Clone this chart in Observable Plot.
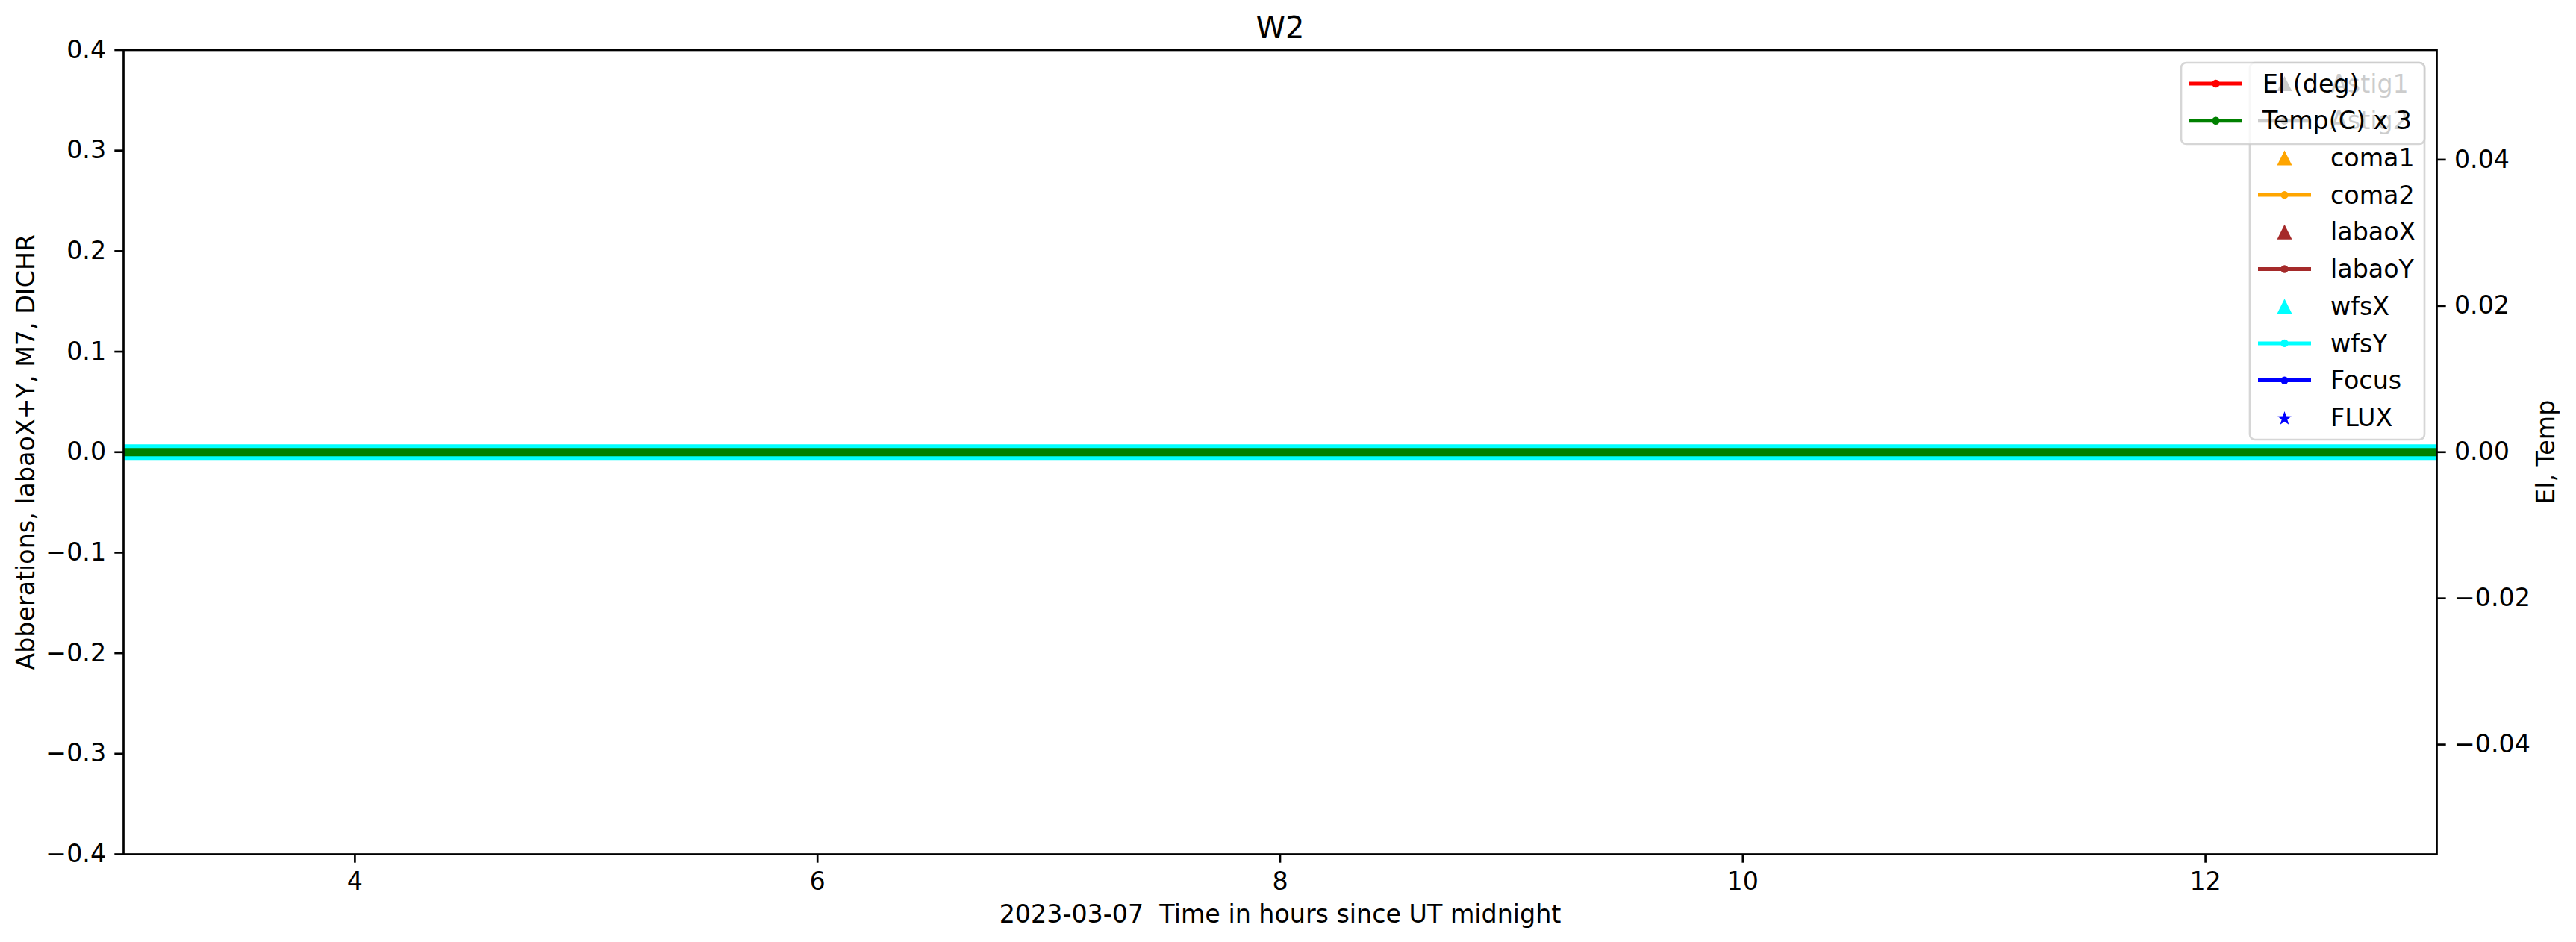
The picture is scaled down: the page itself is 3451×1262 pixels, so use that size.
<!DOCTYPE html>
<html><head><meta charset="utf-8">
<script src="https://cdn.jsdelivr.net/npm/d3@7"></script>
<script src="https://cdn.jsdelivr.net/npm/@observablehq/plot@0.6"></script>
<style>
body{margin:0;background:#fff;}
#wrap{position:relative;width:3451px;height:1262px;font-family:"DejaVu Sans";}
#wrap svg{position:absolute;left:0;top:0;}
</style>
</head><body><div id="wrap"></div>
<script>
// ---- text ----
const titleText = "W2";
const xLabel = "2023-03-07\u00a0 Time in hours since UT midnight";
const yLabelLeft = "Abberations, labaoX+Y, M7, DICHR";
const yLabelRight = "El, Temp";

// ---- data (hours since UT midnight) ----
const times  = [3.0, 3.5, 4.0, 4.5, 5.0, 5.5, 6.0, 6.5, 7.0, 7.5, 8.0, 8.5, 9.0, 9.5, 10.0, 10.5, 11.0, 11.5, 12.0, 12.5, 13.0];
const coma2  = [0, 0, 0, 0, 0, 0, 0, 0, 0, 0, 0, 0, 0, 0, 0, 0, 0, 0, 0, 0, 0];
const labaoY = [0, 0, 0, 0, 0, 0, 0, 0, 0, 0, 0, 0, 0, 0, 0, 0, 0, 0, 0, 0, 0];
const focus  = [0, 0, 0, 0, 0, 0, 0, 0, 0, 0, 0, 0, 0, 0, 0, 0, 0, 0, 0, 0, 0];
const wfsY   = [0, 0, 0, 0, 0, 0, 0, 0, 0, 0, 0, 0, 0, 0, 0, 0, 0, 0, 0, 0, 0];
const elDeg  = [0, 0, 0, 0, 0, 0, 0, 0, 0, 0, 0, 0, 0, 0, 0, 0, 0, 0, 0, 0, 0];
const tempC3 = [0, 0, 0, 0, 0, 0, 0, 0, 0, 0, 0, 0, 0, 0, 0, 0, 0, 0, 0, 0, 0];

// ---- scales / ticks ----
const xDomain = [3, 13];
const leftDomain = [-0.4, 0.4];
const rightDomain = [-0.055, 0.055];
const xTicks = [4, 6, 8, 10, 12];
const yTicks = [-0.4, -0.3, -0.2, -0.1, 0.0, 0.1, 0.2, 0.3, 0.4];
const rightTicks = [-0.04, -0.02, 0.0, 0.02, 0.04];

// ---- legends ----
const legendMainLabels = ["Astig1", "Astig2", "coma1", "coma2", "labaoX", "labaoY", "wfsX", "wfsY", "Focus", "FLUX"];
const legendMainColors = ["#000000", "#000000", "#ffa500", "#ffa500", "#a52a2a", "#a52a2a", "#00ffff", "#00ffff", "#0000ff", "#0000ff"];
const legendMainKinds  = ["tri", "line", "tri", "line", "tri", "line", "tri", "line", "line", "star"];
const legendTwinLabels = ["El (deg)", "Temp(C) x 3"];
const legendTwinColors = ["#ff0000", "#008000"];

const k = leftDomain[1] / rightDomain[1];
const rows = times.map((t, i) => ({t, coma2: coma2[i], labaoY: labaoY[i], focus: focus[i], wfsY: wfsY[i], el: elDeg[i] * k, temp: tempC3[i] * k}));
const minus = s => s.replace("-", "\u2212");

const W = 3451, H = 1262;
const mL = 165, mR = 187, mT = 66.5, mB = 118;
const FS = 33.3, TICK = 11.7, LW = 2.67;

const chart = Plot.plot({
  width: W, height: H,
  marginLeft: mL, marginRight: mR, marginTop: mT, marginBottom: mB,
  style: {fontFamily: "DejaVu Sans", fontSize: FS + "px", background: "white", color: "black", overflow: "visible"},
  x: {domain: xDomain},
  y: {domain: leftDomain},
  marks: [
    Plot.line(rows, {x: "t", y: "coma2", stroke: "#ffa500", strokeWidth: 5, strokeLinecap: "butt"}),
    Plot.line(rows, {x: "t", y: "labaoY", stroke: "#a52a2a", strokeWidth: 5, strokeLinecap: "butt"}),
    Plot.line(rows, {x: "t", y: "focus", stroke: "#0000ff", strokeWidth: 5, strokeLinecap: "butt"}),
    Plot.line(rows, {x: "t", y: "wfsY", stroke: "#00ffff", strokeWidth: 21, strokeLinecap: "butt"}),
    Plot.line(rows, {x: "t", y: "el", stroke: "#ff0000", strokeWidth: 5, strokeLinecap: "butt"}),
    Plot.line(rows, {x: "t", y: "temp", stroke: "#008000", strokeWidth: 11, strokeLinecap: "butt"}),
    Plot.axisX({ticks: xTicks, tickFormat: d => String(d), tickSize: TICK, tickPadding: TICK, strokeWidth: LW, fontSize: FS, label: null}),
    Plot.axisY({ticks: yTicks, tickFormat: d => minus(d3.format(".1f")(d)), tickSize: TICK, tickPadding: TICK, strokeWidth: LW, fontSize: FS, label: null}),
    Plot.axisY({anchor: "right", ticks: rightTicks.map(r => r * k), tickFormat: d => minus((d / k).toFixed(2)), tickSize: TICK, tickPadding: TICK, strokeWidth: LW, fontSize: FS, label: null}),
    Plot.frame({stroke: "black", strokeWidth: LW}),
    Plot.text([titleText], {text: d => d, frameAnchor: "top", dy: -29, fontSize: 40, lineAnchor: "middle", textAnchor: "middle"}),
    Plot.text([xLabel], {text: d => d, frameAnchor: "bottom", dy: 81, fontSize: FS, lineAnchor: "middle", textAnchor: "middle"}),
    Plot.text([yLabelLeft], {text: d => d, frameAnchor: "left", dx: -130, rotate: -90, fontSize: FS, lineAnchor: "middle", textAnchor: "middle"}),
    Plot.text([yLabelRight], {text: d => d, frameAnchor: "right", dx: 147, rotate: -90, fontSize: FS, lineAnchor: "middle", textAnchor: "middle"})
  ]
});
document.getElementById("wrap").appendChild(chart);

// ---- legend overlay (matplotlib style) ----
const svg = d3.select("#wrap").append("svg").attr("width", W).attr("height", H).style("pointer-events", "none");
const rowH = 49.7;
function drawHandle(g, kind, color, x0, x1, cy) {
  const cx = (x0 + x1) / 2;
  if (kind === "line") {
    g.append("line").attr("x1", x0).attr("x2", x1).attr("y1", cy).attr("y2", cy).attr("stroke", color).attr("stroke-width", 5);
    g.append("circle").attr("cx", cx).attr("cy", cy).attr("r", 5.2).attr("fill", color);
  } else if (kind === "tri") {
    const s = 10;
    g.append("path").attr("d", `M${cx},${cy - s}L${cx - s},${cy + s}L${cx + s},${cy + s}Z`).attr("fill", color);
  } else if (kind === "star") {
    const pts = [];
    for (let i = 0; i < 10; i++) {
      const r = i % 2 === 0 ? 9.8 : 4.0;
      const a = -Math.PI / 2 + i * Math.PI / 5;
      pts.push([cx + r * Math.cos(a), cy + 1.5 + r * Math.sin(a)]);
    }
    g.append("path").attr("d", "M" + pts.map(p => p.join(",")).join("L") + "Z").attr("fill", color);
  }
}
function legend(box, labels, colors, kinds, handleX0, textX) {
  const g = svg.append("g");
  g.append("rect").attr("x", box.x).attr("y", box.y).attr("width", box.w).attr("height", box.h)
    .attr("rx", 7).attr("fill", "rgba(255,255,255,0.8)").attr("stroke", "rgba(204,204,204,0.8)").attr("stroke-width", LW);
  labels.forEach((lab, i) => {
    const cy = box.y + 28 + i * rowH;
    drawHandle(g, kinds[i], colors[i], handleX0, handleX0 + 71, cy);
    g.append("text").attr("x", textX).attr("y", cy).attr("dy", "0.35em").attr("font-size", FS)
      .attr("font-family", "DejaVu Sans").attr("fill", "black").text(lab);
  });
}
legend({x: 3014, y: 84, w: 234, h: 505}, legendMainLabels, legendMainColors, legendMainKinds, 3025, 3122);
legend({x: 2922, y: 84, w: 326, h: 109}, legendTwinLabels, legendTwinColors, ["line", "line"], 2933, 3031);
</script>
</body></html>
